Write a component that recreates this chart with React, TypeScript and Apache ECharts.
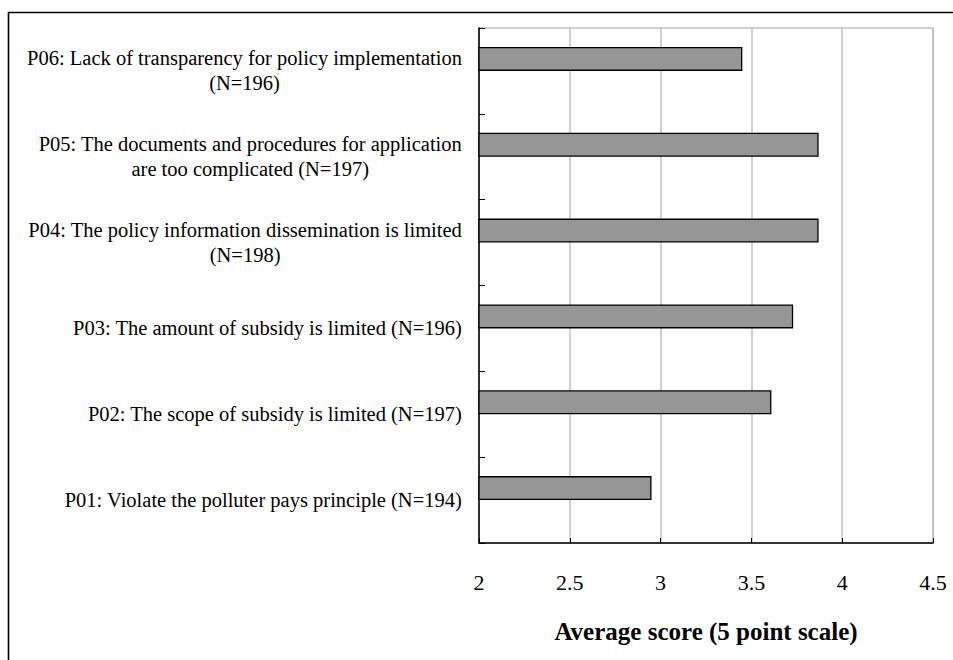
import React, { useEffect, useRef } from "react";
import * as echarts from "echarts";

// Problems, listed bottom to top as they sit on the category axis
const problemLabels: string[] = [
  "P01: Violate the polluter pays principle (N=194)",
  "P02: The scope of subsidy is limited (N=197)",
  "P03: The amount of subsidy is limited (N=196)",
  "P04: The policy information dissemination is limited\n(N=198)",
  "P05: The documents and procedures for application\nare too complicated (N=197)",
  "P06: Lack of transparency for policy implementation\n(N=196)",
];

// Average score on a 5 point scale
const averageScores: number[] = [2.95, 3.61, 3.73, 3.87, 3.87, 3.45];

// Second, empty series that keeps the bars in the upper half of each band
const emptySeries: (number | null)[] = [null, null, null, null, null, null];

const xTicks = { min: 2, max: 4.5, interval: 0.5 };

const SERIF = "Liberation Serif";

export default function App() {
  const ref = useRef<HTMLDivElement>(null);

  useEffect(() => {
    if (!ref.current) return;
    const chart = echarts.init(ref.current, null, { renderer: "svg" });
    chart.setOption({
      animation: false,
      backgroundColor: "#ffffff",
      textStyle: { fontFamily: SERIF },
      graphic: [
        {
          type: "rect",
          shape: { x: 8.5, y: 12.5, width: 980, height: 700 },
          style: { fill: "none", stroke: "#000000", lineWidth: 1.6 },
          silent: true,
        },
      ],
      grid: {
        left: 479,
        right: 20,
        top: 28,
        bottom: 117,
        show: true,
        borderColor: "#a0a0a0",
        borderWidth: 1,
        backgroundColor: "transparent",
      },
      xAxis: {
        type: "value",
        min: xTicks.min,
        max: xTicks.max,
        interval: xTicks.interval,
        name: "Average score (5 point scale)",
        nameLocation: "middle",
        nameGap: 76,
        nameTextStyle: {
          fontFamily: SERIF,
          fontSize: 25,
          fontWeight: "bold",
          color: "#000000",
        },
        axisLine: { show: true, lineStyle: { color: "#000000", width: 1.5 } },
        axisTick: { show: true, inside: true, length: 5, lineStyle: { color: "#000000" } },
        axisLabel: {
          margin: 28,
          fontFamily: SERIF,
          fontSize: 22,
          color: "#000000",
          formatter: (v: number) => String(v),
        },
        splitLine: { show: true, lineStyle: { color: "#c0c0c0", width: 1.5 } },
      },
      yAxis: {
        type: "category",
        data: problemLabels,
        axisLine: { show: true, lineStyle: { color: "#000000", width: 1.5 } },
        axisTick: { show: true, inside: true, length: 6, lineStyle: { color: "#000000" } },
        splitLine: { show: false },
        axisLabel: {
          margin: 17,
          interval: 0,
          align: "right",
          fontFamily: SERIF,
          formatter: (v: string) =>
            v
              .split("\n")
              .map((line) => `{c|${line}}`)
              .join("\n"),
          rich: {
            c: {
              align: "center",
              fontFamily: SERIF,
              fontSize: 20.5,
              lineHeight: 25,
              color: "#000000",
            },
          },
        },
      },
      series: [
        {
          name: "Average score",
          type: "bar",
          data: averageScores,
          barWidth: 24,
          barGap: "0%",
          itemStyle: { color: "#969696", borderColor: "#000000", borderWidth: 1.3 },
        },
        {
          name: "spacer",
          type: "bar",
          data: emptySeries,
          barWidth: 24,
          barGap: "0%",
          itemStyle: { color: "transparent" },
        },
      ],
    });
    return () => chart.dispose();
  }, []);

  return (
    <div
      ref={ref}
      style={{ position: "fixed", left: 0, top: 0, width: 953, height: 660 }}
    />
  );
}
